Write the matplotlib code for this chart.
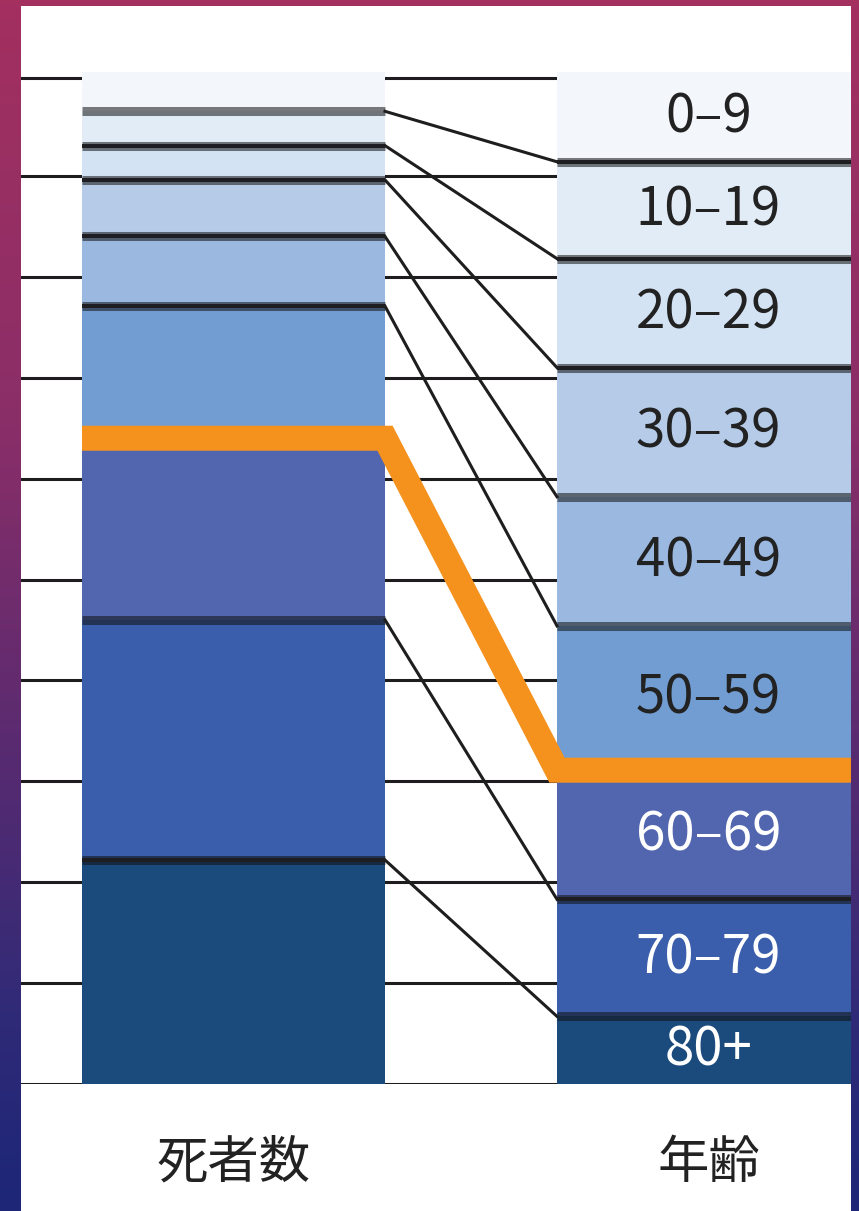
import numpy as np
import matplotlib.pyplot as plt
from matplotlib.colors import LinearSegmentedColormap
from matplotlib.patches import Rectangle

plt.rcParams['font.family'] = ['Noto Sans CJK JP', 'DejaVu Sans']

# age groups, top of the stack first
ages = ['0–9', '10–19', '20–29', '30–39', '40–49', '50–59', '60–69', '70–79', '80+']
deaths = [3.9, 3.4, 3.4, 5.6, 6.9, 13.1, 18.0, 23.8, 22.2]      # share of deaths (%)
population = [8.9, 9.6, 10.8, 12.8, 12.8, 14.3, 12.8, 11.6, 6.7]  # share of population (%)
bar_names = ['死者数', '年齢']
grid_levels = [0, 10, 20, 30, 40, 50, 60, 70, 80, 90, 99.7]

colors = ['#f3f7fc', '#e2ecf7', '#d4e3f3', '#b5cbe8', '#9bb8e0',
          '#719dd2', '#5266b0', '#3a5eab', '#1b4a7c']
text_colors = ['#222222'] * 6 + ['white'] * 3
highlight = 5  # boundary between 50-59 and 60-69
# which boundaries have a black core line (left bar / right bar)
core_left = [False, True, True, True, True, False, False, True]
core_right = [True, True, True, False, False, False, True, False]

W, H = 859, 1211
fig = plt.figure(figsize=(W / 100, H / 100), dpi=100)

# background gradient + white panel
bg = fig.add_axes([0, 0, 1, 1])
cmap = LinearSegmentedColormap.from_list(
    'bg', [(0, '#a3305f'), (0.35, '#8a2e68'), (0.6, '#5c2b70'),
           (0.85, '#2e2a78'), (1, '#1d2677')])
grad = np.linspace(0, 1, 256).reshape(-1, 1)
bg.imshow(grad, aspect='auto', cmap=cmap, extent=[0, 1, 0, 1], origin='upper')
bg.add_patch(Rectangle((21 / W, 0), 830 / W, 1205 / H, transform=bg.transAxes,
                       facecolor='white', edgecolor='none'))
bg.set_axis_off()

px = 10.09  # pixels per percent
top = (1084 - 72) / px
ax = fig.add_axes([21 / W, (H - 1084) / H, 830 / W, (1084 - 72) / H])
ax.patch.set_visible(False)

w = 303 / 475
xs = [0, 1]
ax.set_xlim((21 - 233.5) / 475, (851 - 233.5) / 475)
ax.set_ylim(0, top)


def bottoms(vals):
    return [sum(vals[i + 1:]) for i in range(len(vals))]


bl = bottoms(deaths)
br = bottoms(population)

ax.bar(xs[0], deaths, width=w, bottom=bl, color=colors, zorder=2)
ax.bar(xs[1], population, width=w, bottom=br, color=colors, zorder=2)

# boundary lines inside bars
for x, bots, cores in [(xs[0], bl, core_left), (xs[1], br, core_right)]:
    for i in range(len(ages) - 1):
        if i == highlight:
            continue
        y = bots[i]
        ax.hlines(y, x - w / 2, x + w / 2, color='#111111', alpha=0.55, lw=6.5, zorder=3)
        if cores[i]:
            ax.hlines(y, x - w / 2, x + w / 2, color='#1e1e22', lw=2.9, zorder=4)

# connectors between bars
for i in range(len(ages) - 1):
    if i == highlight:
        ax.plot([xs[0] - w / 2, xs[0] + w / 2, xs[1] - w / 2, xs[1] + w / 2],
                [bl[i], bl[i], br[i], br[i]], color='#f5921e', lw=18,
                solid_joinstyle='miter', solid_capstyle='butt', zorder=6)
    else:
        ax.plot([xs[0] + w / 2, xs[1] - w / 2], [bl[i], br[i]],
                color='#1e1e1e', lw=2.2, zorder=5)

# age labels in the right bar
for i, a in enumerate(ages):
    ax.text(xs[1], br[i] + population[i] / 2, a, ha='center', va='center',
            fontsize=38, color=text_colors[i], zorder=7)

# bar names below
for x, name in zip(xs, bar_names):
    ax.text(x, (1084 - 1163) / px, name, ha='center', va='center',
            fontsize=37, color='#222222')

ax.set_yticks(grid_levels)
ax.yaxis.grid(True, color='#1e1c1e', lw=2.2)
ax.set_axisbelow(True)
ax.tick_params(left=False, bottom=False, labelleft=False, labelbottom=False)
for s in ax.spines.values():
    s.set_visible(False)

fig.savefig('out.png', dpi=100)
